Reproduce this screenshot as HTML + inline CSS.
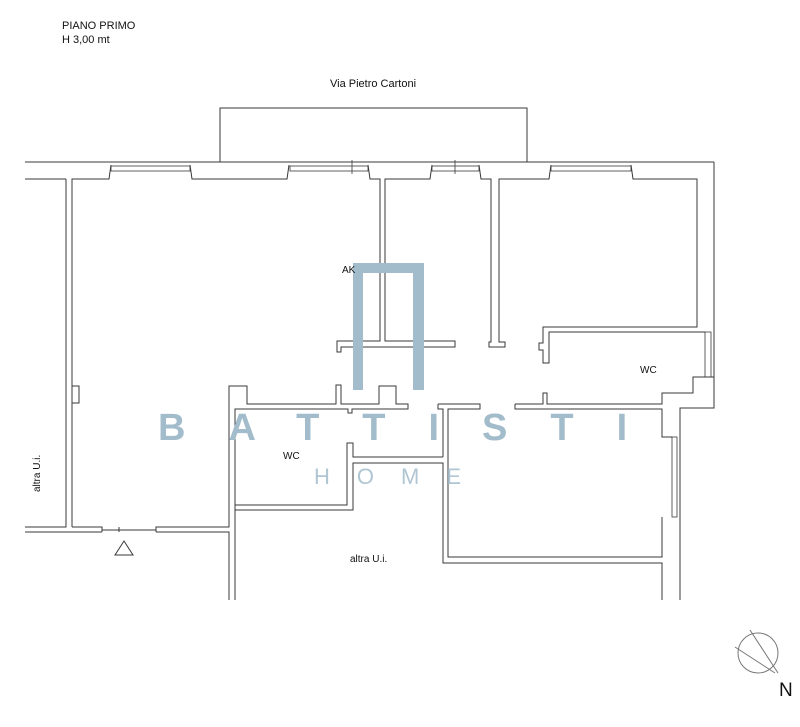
<!DOCTYPE html>
<html><head><meta charset="utf-8"><style>
html,body{margin:0;padding:0;background:#fff}
svg{display:block}
text{font-family:"Liberation Sans",Arial,sans-serif}
</style></head><body>
<svg width="800" height="727" viewBox="0 0 800 727" xmlns="http://www.w3.org/2000/svg">
<g fill="none" stroke="#3a3a3a" stroke-width="1">
<polyline points="220,162 220,108 527,108 527,162"/>
<line x1="25" y1="162" x2="714" y2="162"/>
<polyline points="714,162 714,408 680,408 680,600"/>
<polyline points="25,179 66,179"/>
<polyline points="72,527 72,179 109,179 111,165"/>
<polyline points="190,165 192,179 287,179 289,165"/>
<polyline points="368,165 370,179 380,179 380,341 337,341 337,352 341,352 341,347 455,347 455,341 385,341 385,179 430,179 432,165"/>
<polyline points="479,165 481,179 491,179 491,342 489,342 489,347 505,347 505,342 499,342 499,179 549,179 551,165"/>
<polyline points="631,165 633,179 697,179 697,327 543,327 543,343 539,343 539,350 543,350 543,363 549,363 549,332 705,332"/>
<polyline points="66,179 66,527 25,527"/>
<polyline points="72,386 79,386 79,403 72,403"/>
<line x1="25" y1="532" x2="102" y2="532"/>
<polyline points="72,527 102,527 102,532"/>
<line x1="102" y1="530" x2="156" y2="530"/>
<line x1="119" y1="527" x2="119" y2="532"/>
<polyline points="156,532 156,527 229,527 229,386 247,386 247,404 336,404 336,385 341,385 341,404 379,404 379,386 396,386 396,404 408,404 408,409 352,409 352,413 348,413 348,409 235,409 235,600"/>
<polyline points="156,532 229,532 229,600"/>
<polyline points="235,505 347,505 347,443 353,443 353,457 443,457"/>
<polyline points="235,510 353,510 353,463 443,463 443,563 662,563 662,600"/>
<polyline points="438,404 480,404 480,409 448,409 448,557 662,557 662,517"/>
<polyline points="438,404 438,409 443,409 443,457"/>
<polyline points="515,404 543,404 543,393 547,393 547,404 662,404 662,393 693,393 693,377 714,377"/>
<polyline points="515,404 515,409 662,409 662,437 672,437"/>
<g stroke-width="0.8">
<rect x="111" y="166" width="79" height="5"/><rect x="290" y="166" width="78" height="5"/>
<rect x="432" y="166" width="47" height="5"/><rect x="551" y="166" width="80" height="5"/>
<rect x="705" y="332" width="6" height="45"/><rect x="672" y="437" width="5" height="80"/>
<line x1="352" y1="160" x2="352" y2="174"/><line x1="455" y1="160" x2="455" y2="174"/>
</g>
<polygon points="124,541 115,555 133,555"/>
</g>
<g fill="none" stroke="#777" stroke-width="1">
<circle cx="758" cy="653" r="20"/>
<line x1="750" y1="630" x2="778" y2="673"/>
<line x1="735" y1="647" x2="775" y2="673"/>
</g>
<text x="779" y="696" font-size="19" fill="#111">N</text>
<g fill="#a3bccb">
<rect x="353" y="263" width="71" height="10"/>
<rect x="353" y="263" width="10" height="127"/>
<rect x="413" y="263" width="11" height="127"/>
</g>
<text x="158" y="440" font-size="38" font-weight="bold" fill="#a3bccb" letter-spacing="43">BATTISTI</text>
<text x="314" y="484" font-size="22" fill="#b0c6d3" letter-spacing="27">HOME</text>
<g fill="#111" font-size="11">
<text x="62" y="29">PIANO PRIMO</text>
<text x="62" y="43">H 3,00 mt</text>
<text x="330" y="87">Via Pietro Cartoni</text>
<text x="342" y="273" font-size="10">AK</text>
<text x="640" y="373" font-size="10">WC</text>
<text x="283" y="459" font-size="10">WC</text>
<text x="350" y="562" font-size="10">altra U.i.</text>
<text x="0" y="0" font-size="10" transform="translate(40,492) rotate(-90)">altra U.i.</text>
</g>
</svg>
</body></html>
